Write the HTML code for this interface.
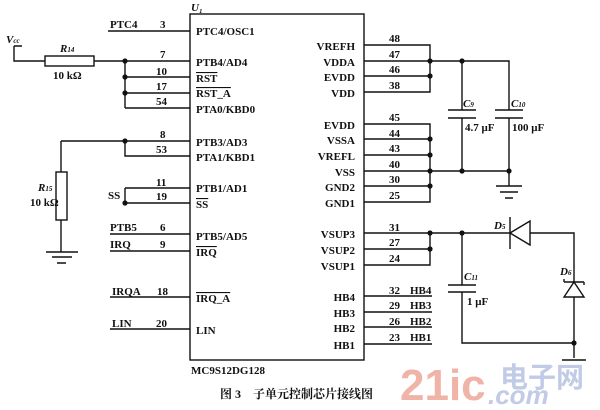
<!DOCTYPE html>
<html><head><meta charset="utf-8"><style>
body{margin:0;background:#fff;}
svg text{font-family:"Liberation Serif","Noto Serif CJK SC",serif;font-weight:bold;font-size:11px;fill:#111;}
</style></head><body>
<svg width="600" height="405" viewBox="0 0 600 405" xmlns="http://www.w3.org/2000/svg">
<g stroke="#111" stroke-width="1.4" fill="none">
<rect x="190" y="14" width="174" height="346"/>
<path d="M108 31H190M125 61H190M125 77H190M125 93H190M125 108H190M125 61V108"/>
<path d="M14 46H22M14 46V61H45M94 61H125"/>
<rect x="45" y="56" width="49" height="10"/>
<path d="M61 141H190M125 141V156H190M61 141V172M61 220V252"/>
<rect x="56" y="172" width="11" height="48"/>
<path d="M46 252H78M52 257H72M57 263H66" />
<path d="M125 188H190M125 188V203H190M110 234H190M110 251H190M110 297H190M110 329H190"/>
<path d="M364 45H430V92H364M364 61H509V110M364 76H430"/>
<path d="M364 124H430V202H364M364 139H430M364 155H430M364 171H509V118M364 186H430"/>
<path d="M462 61V110M462 118V171M509 171V186M496 186H522M500 192H518M505 198H513"/>
<path d="M448 110H476M448 118H476M495 110H523M495 118H523"/>
<path d="M364 233H510M364 249H430M364 265H430V233M530 233H574V282M574 297V343H462V292M462 233V285"/>
<path d="M448 285H476M448 292H476"/>
<path d="M510 217V249"/><path d="M510 233L530 221V245Z"/>
<path d="M564 282L574 282 L584 282M564 282V279M584 282V285"/><path d="M574 282L564 297H584Z"/>
<path d="M574 343V358M562 360H586"/>
<path d="M364 296H432M364 312H432M364 327H432M364 344H432"/>
</g>
<g fill="#111">
<circle cx="125" cy="61" r="2.6"/><circle cx="125" cy="77" r="2.6"/><circle cx="125" cy="93" r="2.6"/>
<circle cx="125" cy="141" r="2.6"/><circle cx="125" cy="203" r="2.6"/>
<circle cx="430" cy="61" r="2.6"/><circle cx="430" cy="76" r="2.6"/><circle cx="462" cy="61" r="2.6"/>
<circle cx="430" cy="139" r="2.6"/><circle cx="430" cy="155" r="2.6"/><circle cx="430" cy="171" r="2.6"/><circle cx="430" cy="186" r="2.6"/>
<circle cx="462" cy="171" r="2.6"/><circle cx="509" cy="171" r="2.6"/>
<circle cx="430" cy="233" r="2.6"/><circle cx="430" cy="249" r="2.6"/><circle cx="462" cy="233" r="2.6"/><circle cx="574" cy="343" r="2.6"/>
</g>
<text x="191" y="11" font-style="italic">U₁</text>
<text x="6" y="43" font-style="italic">V<tspan style="font-size:7px">cc</tspan></text>
<text x="60" y="52" font-style="italic">R<tspan style="font-size:7px">14</tspan></text>
<text x="53" y="79">10 kΩ</text>
<text x="38" y="191" font-style="italic">R<tspan style="font-size:7px">15</tspan></text>
<text x="30" y="206">10 kΩ</text>
<text x="110" y="28">PTC4</text><text x="160" y="28">3</text>
<text x="160" y="58">7</text><text x="156" y="75">10</text><text x="156" y="90">17</text><text x="156" y="105">54</text>
<text x="160" y="138">8</text><text x="156" y="153">53</text>
<text x="108" y="199">SS</text><text x="156" y="186">11</text><text x="156" y="200">19</text>
<text x="110" y="231">PTB5</text><text x="160" y="231">6</text>
<text x="110" y="248">IRQ</text><text x="160" y="248">9</text>
<text x="112" y="295">IRQA</text><text x="157" y="295">18</text>
<text x="112" y="327">LIN</text><text x="156" y="327">20</text>
<g>
<text x="196" y="35">PTC4/OSC1</text>
<text x="196" y="66">PTB4/AD4</text>
<text x="196" y="82" text-decoration="overline">RST</text>
<text x="196" y="97" text-decoration="overline">RST_A</text>
<text x="196" y="113">PTA0/KBD0</text>
<text x="196" y="146">PTB3/AD3</text>
<text x="196" y="161">PTA1/KBD1</text>
<text x="196" y="192">PTB1/AD1</text>
<text x="196" y="208" text-decoration="overline">SS</text>
<text x="196" y="240">PTB5/AD5</text>
<text x="196" y="256" text-decoration="overline">IRQ</text>
<text x="196" y="302" text-decoration="overline">IRQ_A</text>
<text x="196" y="334">LIN</text>
</g>
<g text-anchor="end">
<text x="355" y="50">VREFH</text><text x="355" y="66">VDDA</text><text x="355" y="81">EVDD</text><text x="355" y="97">VDD</text>
<text x="355" y="129">EVDD</text><text x="355" y="144">VSSA</text><text x="355" y="160">VREFL</text><text x="355" y="176">VSS</text>
<text x="355" y="191">GND2</text><text x="355" y="207">GND1</text>
<text x="355" y="238">VSUP3</text><text x="355" y="254">VSUP2</text><text x="355" y="270">VSUP1</text>
<text x="355" y="301">HB4</text><text x="355" y="317">HB3</text><text x="355" y="332">HB2</text><text x="355" y="349">HB1</text>
</g>
<text x="389" y="42">48</text><text x="389" y="58">47</text><text x="389" y="73">46</text><text x="389" y="89">38</text>
<text x="389" y="121">45</text><text x="389" y="137">44</text><text x="389" y="152">43</text><text x="389" y="168">40</text>
<text x="389" y="183">30</text><text x="389" y="199">25</text>
<text x="389" y="231">31</text><text x="389" y="246">27</text><text x="389" y="262">24</text>
<text x="389" y="294">32</text><text x="410" y="294">HB4</text>
<text x="389" y="309">29</text><text x="410" y="309">HB3</text>
<text x="389" y="325">26</text><text x="410" y="325">HB2</text>
<text x="389" y="341">23</text><text x="410" y="341">HB1</text>
<text x="463" y="107" font-style="italic">C<tspan style="font-size:7px">9</tspan></text>
<text x="511" y="107" font-style="italic">C<tspan style="font-size:7px">10</tspan></text>
<text x="465" y="131">4.7 μF</text><text x="512" y="131">100 μF</text>
<text x="464" y="280" font-style="italic">C<tspan style="font-size:7px">11</tspan></text>
<text x="467" y="305">1 μF</text>
<text x="494" y="229" font-style="italic">D<tspan style="font-size:7px">5</tspan></text>
<text x="560" y="275" font-style="italic">D<tspan style="font-size:7px">6</tspan></text>
<text x="191" y="374">MC9S12DG128</text>
<text x="220" y="398" style="font-size:12px">图 3　子单元控制芯片接线图</text>
<text x="400" y="400" style="font-family:'Liberation Sans',sans-serif;font-size:44px;font-weight:bold;fill:#f0b3a8">21ic</text>
<text x="500" y="387" style="font-family:'Liberation Sans','Noto Sans CJK SC',sans-serif;font-size:28px;font-weight:bold;fill:#c2cbe6">电子网</text>
<text x="488" y="404" style="font-family:'Liberation Sans',sans-serif;font-size:26px;font-weight:bold;font-style:italic;fill:#c2cbe6">.com</text>
</svg>
</body></html>
